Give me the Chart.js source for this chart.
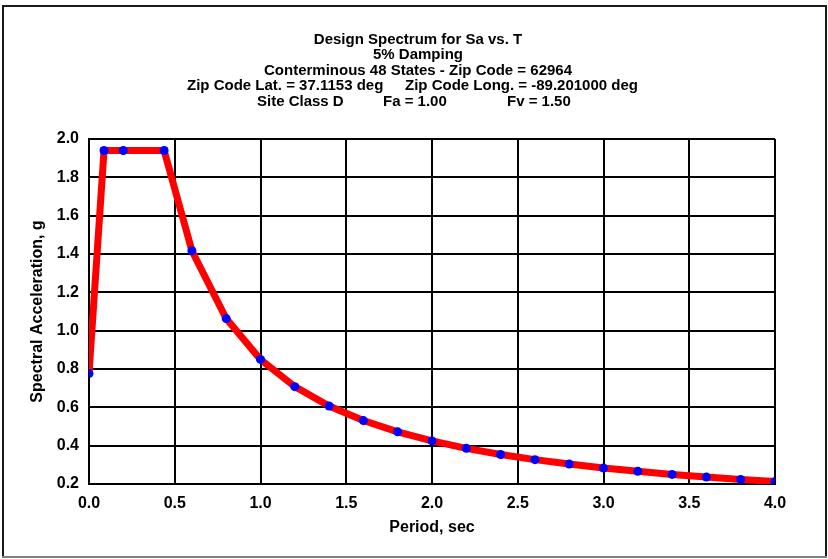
<!DOCTYPE html>
<html>
<head>
<meta charset="utf-8">
<script src="https://cdn.jsdelivr.net/npm/chart.js@4/dist/chart.umd.min.js"></script>
<style>
  html, body { margin: 0; padding: 0; background: #ffffff; }
  #wrap { width: 828px; height: 559px; position: relative; }
</style>
</head>
<body>
<div id="wrap"><canvas id="c" width="828" height="559"></canvas></div>
<script>
// Period values (sec)
const periods = [0, 0.0876, 0.2, 0.438, 0.6, 0.8, 1.0, 1.2, 1.4, 1.6, 1.8, 2.0, 2.2, 2.4, 2.6, 2.8, 3.0, 3.2, 3.4, 3.6, 3.8, 4.0];
// Spectral acceleration values (g)
const saValues = [0.776, 1.94, 1.94, 1.94, 1.417, 1.063, 0.85, 0.708, 0.607, 0.531, 0.472, 0.425, 0.386, 0.354, 0.327, 0.304, 0.283, 0.266, 0.25, 0.236, 0.224, 0.2125];
// Axis ticks
const xTicks = [0.0, 0.5, 1.0, 1.5, 2.0, 2.5, 3.0, 3.5, 4.0];
const yTicks = [0.2, 0.4, 0.6, 0.8, 1.0, 1.2, 1.4, 1.6, 1.8, 2.0];
// Title texts
const titleLines = [
  "Design Spectrum for Sa vs. T",
  "5% Damping",
  "Conterminous 48 States - Zip Code = 62964"
];
const titleLine4 = ["Zip Code Lat. = 37.1153 deg", "Zip Code Long. = -89.201000 deg"];
const titleLine5 = ["Site Class D", "Fa = 1.00", "Fv = 1.50"];
const xTitle = "Period, sec";
const yTitle = "Spectral Acceleration, g";

const points = periods.map((t, i) => ({ x: t, y: saValues[i] }));
const FONT = "'Liberation Sans', Arial, Helvetica, sans-serif";

const framePlugin = {
  id: 'frame',
  beforeDraw(chart) {
    const ctx = chart.ctx;
    ctx.save();
    ctx.fillStyle = '#ffffff';
    ctx.fillRect(0, 0, chart.width, chart.height);
    ctx.lineWidth = 2;
    ctx.strokeStyle = '#1a1a1a';
    ctx.beginPath();
    ctx.moveTo(3, 557); ctx.lineTo(3, 6); ctx.lineTo(826, 6); ctx.lineTo(826, 557);
    ctx.stroke();
    ctx.strokeStyle = '#808080';
    ctx.beginPath();
    ctx.moveTo(2, 557); ctx.lineTo(827, 557);
    ctx.stroke();
    ctx.restore();
  },
  afterDraw(chart) {
    const ctx = chart.ctx;
    ctx.save();
    ctx.fillStyle = '#000000';
    ctx.font = "bold 15px " + FONT;
    ctx.textBaseline = 'middle';
    ctx.textAlign = 'center';
    const cx = 418;
    const ys = [40, 55, 71, 86, 102];
    titleLines.forEach((t, i) => ctx.fillText(t, cx, ys[i]));
    ctx.textAlign = 'left';
    ctx.fillText(titleLine4[0], 187, ys[3]);
    ctx.fillText(titleLine4[1], 405, ys[3]);
    ctx.fillText(titleLine5[0], 257, ys[4]);
    ctx.fillText(titleLine5[1], 383, ys[4]);
    ctx.fillText(titleLine5[2], 507, ys[4]);
    ctx.restore();
  }
};

new Chart(document.getElementById('c'), {
  type: 'line',
  data: {
    datasets: [{
      data: points,
      borderColor: '#ff0000',
      borderWidth: 7,
      backgroundColor: '#0000ff',
      pointBackgroundColor: '#0000ff',
      pointBorderColor: '#0000ff',
      pointRadius: 4.5,
      pointBorderWidth: 0,
      tension: 0,
      fill: false
    }]
  },
  options: {
    responsive: false,
    animation: false,
    events: [],
    layout: { padding: { left: 0, top: 139, right: 53, bottom: 0 } },
    plugins: {
      legend: { display: false },
      title: { display: false },
      tooltip: { enabled: false }
    },
    scales: {
      x: {
        type: 'linear',
        min: 0, max: 4,
        afterFit(s) { s.height = 75; },
        afterBuildTicks(s) { s.ticks = xTicks.map(v => ({ value: v })); },
        ticks: {
          color: '#000000',
          font: { family: FONT, size: 16, weight: 'bold' },
          padding: 10,
          maxRotation: 0,
          callback: v => Number(v).toFixed(1)
        },
        grid: { color: '#000000', lineWidth: 2, drawTicks: false },
        border: { display: true, color: '#000000', width: 2 },
        title: {
          display: true, text: xTitle, color: '#000000',
          font: { family: FONT, size: 16, weight: 'bold' },
          padding: { top: 0, bottom: 22 }
        }
      },
      y: {
        type: 'linear',
        min: 0.2, max: 2.0,
        afterFit(s) { s.width = 89; },
        afterBuildTicks(s) { s.ticks = yTicks.map(v => ({ value: v })); },
        ticks: {
          color: '#000000',
          font: { family: FONT, size: 16, weight: 'bold' },
          padding: 10,
          callback: v => Number(v).toFixed(1)
        },
        grid: { color: '#000000', lineWidth: 2, drawTicks: false },
        border: { display: true, color: '#000000', width: 2 },
        title: {
          display: true, text: yTitle, color: '#000000',
          font: { family: FONT, size: 16, weight: 'bold' },
          padding: { top: 28, bottom: 0 }
        }
      }
    }
  },
  plugins: [framePlugin]
});
</script>
</body>
</html>
